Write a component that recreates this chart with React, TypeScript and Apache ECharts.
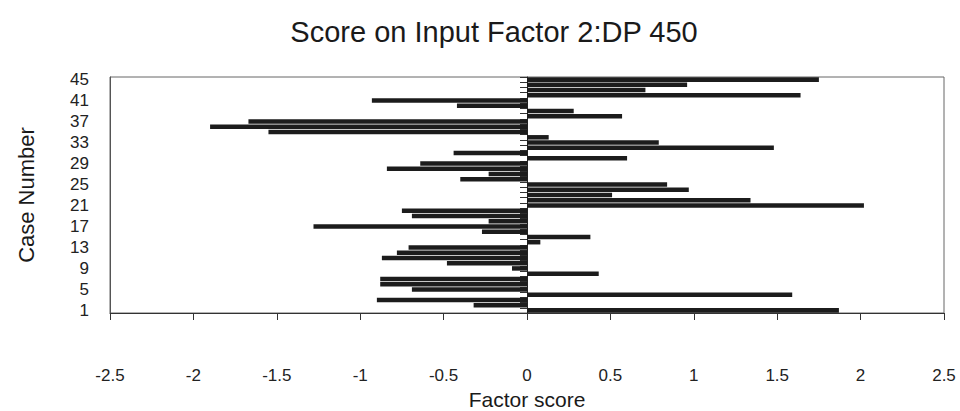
import React, { useEffect, useRef } from "react";
import * as echarts from "echarts";

const caseNumbers: string[] = Array.from({ length: 45 }, (_, i) => String(i + 1));

// Factor scores for cases 1..45
const factorScores: number[] = [
  1.87, -0.32, -0.9, 1.59, -0.69, -0.88, -0.88, 0.43, -0.09, -0.48,
  -0.87, -0.78, -0.71, 0.08, 0.38, -0.27, -1.28, -0.23, -0.69, -0.75,
  2.02, 1.34, 0.51, 0.97, 0.84, -0.4, -0.23, -0.84, -0.64, 0.6,
  -0.44, 1.48, 0.79, 0.13, -1.55, -1.9, -1.67, 0.57, 0.28, -0.42,
  -0.93, 1.64, 0.71, 0.96, 1.75,
];

const xTicks = { min: -2.5, max: 2.5, step: 0.5 };
const titleText = "Score on Input Factor 2:DP 450";
const xName = "Factor score";
const yName = "Case Number";

export default function App() {
  const ref = useRef<HTMLDivElement>(null);
  useEffect(() => {
    if (!ref.current) return;
    const chart = echarts.init(ref.current, undefined, { renderer: "svg" });
    const font = "'Liberation Sans', Arial, sans-serif";
    chart.setOption({
      animation: false,
      backgroundColor: "#ffffff",
      title: {
        text: titleText,
        left: 489,
        textAlign: "center",
        top: 12,
        textStyle: { fontFamily: font, fontSize: 29, fontWeight: "normal", color: "#1a1a1a" },
      },
      grid: {
        left: 110,
        right: 16,
        top: 77,
        bottom: 98,
        show: true,
        borderColor: "#666",
        borderWidth: 1,
        backgroundColor: "transparent",
        outerBoundsMode: "none",
        containLabel: false,
      },
      xAxis: {
        type: "value",
        min: xTicks.min,
        max: xTicks.max,
        interval: xTicks.step,
        name: xName,
        nameLocation: "middle",
        nameGap: 73,
        nameTextStyle: { fontFamily: font, fontSize: 21, color: "#1a1a1a" },
        axisLine: { show: true, onZero: false, lineStyle: { color: "#333", width: 1 } },
        axisTick: { show: true, length: 7, lineStyle: { color: "#333" } },
        splitLine: { show: false },
        axisLabel: {
          margin: 54,
          fontFamily: font,
          fontSize: 17,
          color: "#222",
          formatter: (v: number) => String(Math.round(v * 10) / 10),
        },
      },
      yAxis: [
        {
          type: "category",
          data: caseNumbers,
          position: "left",
          name: yName,
          nameLocation: "middle",
          nameGap: 73,
          nameRotate: 90,
          nameTextStyle: { fontFamily: font, fontSize: 22, color: "#1a1a1a" },
          axisLine: { show: true, onZero: false, lineStyle: { color: "#555" } },
          axisTick: { show: false },
          axisLabel: {
            interval: 3,
            margin: 21,
            fontFamily: font,
            fontSize: 17,
            color: "#222",
          },
          splitLine: { show: false },
        },
        {
          type: "category",
          data: caseNumbers,
          position: "left",
          axisLine: { show: true, onZero: true, lineStyle: { color: "#222" } },
          axisTick: { show: true, interval: 0, length: 7, lineStyle: { color: "#333" } },
          axisLabel: { show: false },
          splitLine: { show: false },
        },
      ],
      series: [
        {
          type: "bar",
          data: factorScores,
          yAxisIndex: 0,
          barCategoryGap: "14%",
          itemStyle: { color: "#1c1c1c" },
        },
      ],
    });
    return () => chart.dispose();
  }, []);
  return (
    <div
      ref={ref}
      style={{ position: "fixed", left: 0, top: 0, width: 960, height: 411, background: "#fff" }}
    />
  );
}
